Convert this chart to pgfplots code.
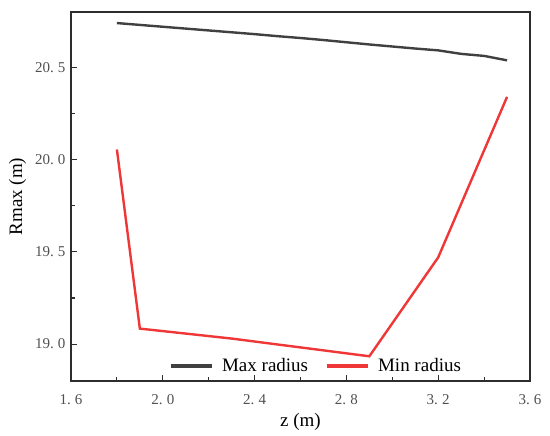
\documentclass[border=0pt]{standalone}
\usepackage{fontspec}
\setmainfont{Liberation Serif}
\usepackage{pgfplots}
\pgfplotsset{compat=1.18}
\definecolor{maxc}{RGB}{64,64,64}
\definecolor{minc}{RGB}{240,55,55}
\definecolor{axc}{RGB}{45,45,45}
\definecolor{tickc}{RGB}{80,80,80}
\begin{document}
\begin{tikzpicture}
\begin{axis}[
  name=ax,
  at={(0,0)}, anchor=south west,
  scale only axis,
  width=459bp, height=369bp,
  xmin=1.6, xmax=3.6, ymin=18.8, ymax=20.8,
  axis line style={axc, line width=1.3bp},
  tick style={axc, line width=1.1bp},
  tick pos=left,
  tick align=inside,
  major tick length=6bp,
  minor tick length=3.7bp,
  xtick={1.6,2.0,2.4,2.8,3.2,3.6},
  xticklabels={1.\hspace{0.28em}6,2.\hspace{0.28em}0,2.\hspace{0.28em}4,2.\hspace{0.28em}8,3.\hspace{0.28em}2,3.\hspace{0.28em}6},
  ytick={19.0,19.5,20.0,20.5},
  yticklabels={19.\hspace{0.28em}0,19.\hspace{0.28em}5,20.\hspace{0.28em}0,20.\hspace{0.28em}5},
  minor x tick num=1,
  minor y tick num=1,
  ticklabel style={font=\fontsize{15bp}{18bp}\selectfont, text=tickc},
  xticklabel style={yshift=-10bp},
  yticklabel style={xshift=-2bp},
  xlabel={z (m)},
  ylabel={Rmax (m)},
  label style={font=\fontsize{19bp}{22bp}\selectfont},
  xlabel style={yshift=-2bp},
  ylabel style={yshift=2bp},
  legend style={at={(0.536,0.012)}, anchor=south, draw=none, fill=none,
    font=\fontsize{19bp}{22bp}\selectfont, inner sep=1bp},
  legend columns=2,
  legend cell align=left,
  legend image code/.code={\fill[#1, draw=none] (0bp,-2bp) rectangle (41bp,2bp);},
  /tikz/every odd column/.append style={column sep=8bp},
  /tikz/every even column/.append style={column sep=17bp},
]
\addplot[maxc, line width=2.4bp] coordinates {
(1.8,20.740) (1.9,20.730) (2.0,20.720) (2.1,20.710) (2.2,20.700)
(2.3,20.690) (2.4,20.680) (2.5,20.669) (2.6,20.659) (2.7,20.648)
(2.8,20.636) (2.9,20.624) (3.0,20.613) (3.1,20.602) (3.2,20.592)
(3.3,20.573) (3.4,20.562) (3.5,20.538)
};
\addlegendentry{Max radius}
\addplot[minc, line width=2.4bp] coordinates {
(1.8,20.055) (1.9,19.084) (2.3,19.030) (2.9,18.934) (3.2,19.470) (3.5,20.340)
};
\addlegendentry{Min radius}
\end{axis}
\pgfresetboundingbox
\path[use as bounding box] ([xshift=-71bp,yshift=-55bp]ax.south west) rectangle ([xshift=20bp,yshift=12bp]ax.north east);
\end{tikzpicture}
\end{document}
